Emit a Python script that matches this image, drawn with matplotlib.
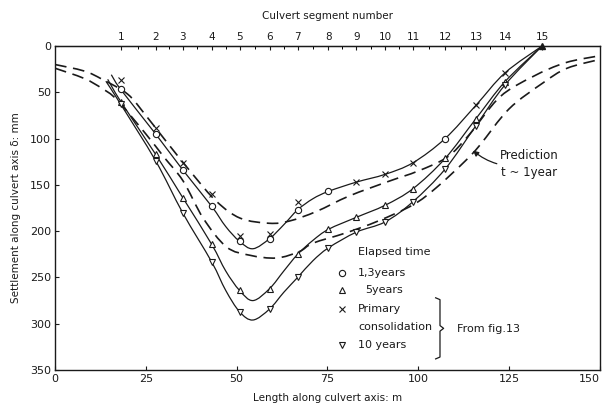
import matplotlib.pyplot as plt
from matplotlib.path import Path
from matplotlib.patches import PathPatch
import numpy as np

# culvert segment positions along the axis (m) and labels for the top axis
seg_pos = [18.1, 27.7, 35.2, 43.1, 50.8, 59.1, 66.8, 75.3, 83.0, 90.9, 98.6, 107.4, 115.9, 123.9, 134.1]
seg_labels = [str(i) for i in range(1, 16)]

# measured markers (settlement in mm)
yrs13_x = [18.1, 27.7, 35.2, 43.1, 50.8, 59.1, 66.8, 75.3, 107.4]
yrs13_y = [46.8, 94.9, 134, 173, 211, 208, 177, 157, 100]
primary_x = [18.1, 27.7, 35.2, 43.1, 50.8, 59.1, 66.8, 83.0, 90.9, 98.6, 115.9, 123.9]
primary_y = [36.6, 88.3, 126, 160, 205, 203.5, 169, 147, 138.6, 126, 64, 29]
yrs5_x = seg_pos[:14]
yrs5_y = [60, 117, 164, 214, 264, 262, 225, 198, 185, 172, 154, 121.5, 78.5, 38.5]
yrs10_x = seg_pos[:14]
yrs10_y = [63, 124, 180.5, 233, 287, 284, 250, 218, 201, 190, 168, 133, 86, 42]

# solid curves drawn through the measurements
top_x = [15.5, 18.1, 27.7, 35.2, 43.1, 47, 50.8, 54.5, 59.1, 63, 66.8, 71, 75.3, 83, 90.9,
         98.6, 107.4, 115.9, 123.9, 134.1]
top_y = [31, 47, 95, 134, 173, 195, 211, 219, 208, 193, 177, 165, 157, 147, 138.6,
         126, 100, 64, 29, 0]
mid_x = [14.5, 18.1, 27.7, 35.2, 43.1, 47, 50.8, 54.5, 59.1, 63, 66.8, 71, 75.3, 83, 90.9,
         98.6, 107.4, 115.9, 123.9, 134.1]
mid_y = [36, 60, 117, 164, 214, 243, 264, 275, 262, 243, 225, 210, 198, 185, 172,
         154, 121.5, 78.5, 38.5, 0]
bot_x = [14, 18.1, 27.7, 35.2, 43.1, 47, 50.8, 54.5, 59.1, 63, 66.8, 71, 75.3, 83, 90.9,
         98.6, 107.4, 115.9, 123.9, 134.1]
bot_y = [38, 63, 124, 180.5, 233, 264, 287, 296, 284, 266, 250, 232, 218, 201, 190,
         168, 133, 86, 42, 0]

# prediction curves (dashed)
predA_x = [0, 8, 13, 20, 25, 30, 38, 44.5, 51, 59, 64.6, 72, 81, 92, 100, 108, 114, 122.5, 131.6, 140.6, 150]
predA_y = [20, 27, 36, 52, 75, 100, 139, 168, 186, 191.5, 189, 178.7, 162, 146, 135, 120, 96, 55, 33, 18, 10.5]
predB_x = [0, 8, 13, 17, 25, 30, 35.3, 40.8, 47.2, 53.6, 61, 67.3, 71, 80, 89, 98.6, 105, 113, 117, 125, 134.3, 141, 150]
predB_y = [24, 35, 46, 58, 95, 120, 146, 186, 217, 226, 229, 222, 213, 202, 189, 171.5, 153, 124, 107, 68, 40, 24, 14.5]

ink = '#1a1a1a'


def smooth_path(xs, ys):
    # Catmull-Rom through the read points, handed to matplotlib as cubic Beziers
    p = np.column_stack([xs, ys]).astype(float)
    ext = np.vstack([p[0], p, p[-1]])
    verts = [p[0]]
    codes = [Path.MOVETO]
    for i in range(1, len(ext) - 2):
        p0, p1, p2, p3 = ext[i - 1], ext[i], ext[i + 1], ext[i + 2]
        verts += [p1 + (p2 - p0) / 6, p2 - (p3 - p1) / 6, p2]
        codes += [Path.CURVE4] * 3
    return Path(verts, codes)


fig = plt.figure(figsize=(6.08, 4.05), dpi=100)
ax = fig.add_axes([0.0905, 0.0864, 0.896, 0.80])

for xs, ys in [(top_x, top_y), (mid_x, mid_y), (bot_x, bot_y)]:
    ax.add_patch(PathPatch(smooth_path(xs, ys), fill=False, edgecolor=ink, lw=0.9))
for xs, ys in [(predA_x, predA_y), (predB_x, predB_y)]:
    ax.add_patch(PathPatch(smooth_path(xs, ys), fill=False, edgecolor=ink, lw=1.2,
                           linestyle=(0, (7, 4))))

mk = dict(linestyle='none', mfc='white', mec=ink, mew=0.8, ms=4.5)
ax.plot(yrs13_x, yrs13_y, marker='o', **mk)
ax.plot(yrs5_x, yrs5_y, marker='^', **mk)
ax.plot(yrs10_x, yrs10_y, marker='v', **mk)
ax.plot(primary_x, primary_y, marker='x', linestyle='none', color=ink, mew=0.8, ms=4.5)
ax.plot([seg_pos[-1]], [0], marker='^', color=ink, ms=4, clip_on=False)

ax.set_xlim(0, 150)
ax.set_ylim(350, 0)
ax.set_xticks([0, 25, 50, 75, 100, 125, 150])
ax.set_yticks([0, 50, 100, 150, 200, 250, 300, 350])
ax.tick_params(direction='in', length=3, width=0.8, labelsize=8, colors=ink, pad=3)
ax.get_xticklabels()[-1].set_horizontalalignment('right')

for s in ax.spines.values():
    s.set_linewidth(1.0)
    s.set_color(ink)

ax.set_xlabel("Length along culvert axis: m", fontsize=7.5, color=ink, labelpad=6)
ax.set_ylabel("Settlement along culvert axis δ: mm", fontsize=7.5, color=ink, labelpad=6)

top = ax.secondary_xaxis('top')
top.set_xticks(seg_pos)
top.set_xticklabels(seg_labels)
mids = [(a + b) / 2 for a, b in zip(seg_pos[:-1], seg_pos[1:])]
top.set_xticks(mids, minor=True)
top.tick_params(direction='in', length=3, width=0.8, labelsize=7.5, colors=ink, pad=3)
top.tick_params(which='minor', direction='in', length=2, width=0.7)
top.set_xlabel("Culvert segment number", fontsize=7.5, color=ink, labelpad=9)

# legend block
fs = 8
ax.text(83.5, 222, "Elapsed time", fontsize=fs, va='center', color=ink)
ax.plot([79.1], [245], marker='o', **mk)
ax.text(83.5, 245, "1,3years", fontsize=fs, va='center', color=ink)
ax.plot([79.1], [263.5], marker='^', **mk)
ax.text(85.4, 263.5, "5years", fontsize=fs, va='center', color=ink)
ax.plot([79.1], [284], marker='x', linestyle='none', color=ink, mew=0.8, ms=4.5)
ax.text(83.5, 284, "Primary", fontsize=fs, va='center', color=ink)
ax.text(83.5, 303.5, "consolidation", fontsize=fs, va='center', color=ink)
ax.plot([79.1], [323], marker='v', **mk)
ax.text(83.5, 323, "10 years", fontsize=fs, va='center', color=ink)

# brace
bx = 106.0
ax.plot([bx - 1.2, bx, bx, bx + 1.0, bx, bx, bx - 1.2],
        [272, 274, 302, 305, 308, 336, 338], color=ink, lw=0.9)
ax.text(110.8, 305.5, "From fig.13", fontsize=fs, va='center', color=ink)

# prediction annotation
ax.annotate("Prediction\nt ~ 1year", xy=(114.8, 112), xytext=(130.5, 128),
            fontsize=8.5, va='center', ha='center', multialignment='center',
            color=ink, linespacing=1.4,
            arrowprops=dict(arrowstyle='-|>', color=ink, lw=0.9, mutation_scale=8,
                            shrinkA=22, shrinkB=1,
                            connectionstyle='arc3,rad=-0.25'))

fig.savefig("out.png", dpi=100, facecolor='white')
